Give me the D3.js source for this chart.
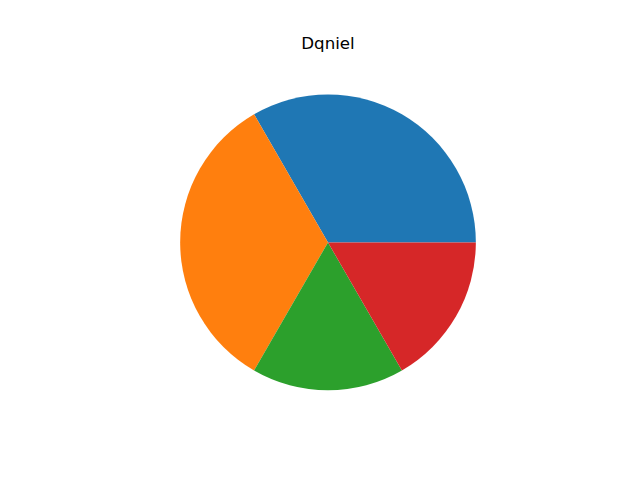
<!DOCTYPE html>
<html>
<head>
<meta charset="utf-8">
<script src="https://cdn.jsdelivr.net/npm/d3@7"></script>
<style>
  body { margin: 0; background: #fff; }
  svg { display: block; }
</style>
</head>
<body>
<div id="chart"></div>
<script>
// data
var title = "Dqniel";
var slice_values = [2, 2, 1, 1];
var slice_colors = ["#1f77b4", "#ff7f0e", "#2ca02c", "#d62728"];

var width = 640, height = 480;
// axes box like matplotlib defaults
var ax = {left: 80, top: 57.6, width: 496, height: 369.6};
var cx = ax.left + ax.width / 2;
var cy = ax.top + ax.height / 2;
var radius = ax.height / 2.5;

var svg = d3.select("#chart").append("svg")
    .attr("width", width)
    .attr("height", height);

// matplotlib starts at 3 o'clock and goes counterclockwise
var pie = d3.pie()
    .sort(null)
    .value(function(d) { return d; })
    .startAngle(Math.PI / 2)
    .endAngle(Math.PI / 2 - 2 * Math.PI);

var arc = d3.arc()
    .innerRadius(0)
    .outerRadius(radius);

var g = svg.append("g")
    .attr("transform", "translate(" + cx + "," + cy + ")");

g.selectAll(".slice")
    .data(pie(slice_values))
  .enter().append("path")
    .attr("class", "slice")
    .attr("d", arc)
    .style("fill", function(d, i) { return slice_colors[i]; });

svg.append("text")
    .attr("x", cx)
    .attr("y", ax.top - 8.3)
    .attr("text-anchor", "middle")
    .style("font-family", "DejaVu Sans")
    .style("font-size", "16.67px")
    .text(title);
</script>
</body>
</html>
